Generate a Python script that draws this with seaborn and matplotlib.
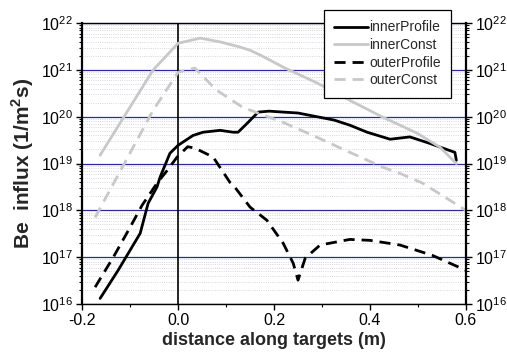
import numpy as np
import pandas as pd
import matplotlib
matplotlib.use('Agg')
import matplotlib.pyplot as plt
import matplotlib.ticker as mticker
import seaborn as sns

# values (x in m, y as log10 of flux)
inner_profile_x = [-0.1625, -0.125, -0.079, -0.0625, -0.044, -0.0375, -0.017, 0.0, 0.031, 0.052,
                   0.0875, 0.115, 0.125, 0.144, 0.167, 0.19, 0.219, 0.25, 0.29, 0.325, 0.358, 0.394,
                   0.442, 0.483, 0.525, 0.552, 0.577, 0.58]
inner_profile_log = [16.12, 16.72, 17.51, 18.15, 18.5, 18.71, 19.22, 19.39, 19.6, 19.67,
                     19.71, 19.67, 19.67, 19.86, 20.1, 20.12, 20.1, 20.08, 20.0, 19.93, 19.82, 19.67,
                     19.52, 19.57, 19.43, 19.33, 19.24, 19.07]

inner_const_x = [-0.1625, -0.052, 0.0, 0.046, 0.0875, 0.129, 0.15, 0.171, 0.219, 0.29,
                 0.358, 0.427, 0.498, 0.546, 0.58]
inner_const_log = [19.18, 21.0, 21.57, 21.68, 21.6, 21.49, 21.42, 21.32, 21.06, 20.72,
                   20.35, 19.99, 19.65, 19.35, 19.0]

outer_profile_x = [-0.173, -0.135, -0.1, -0.075, -0.044, -0.023, -0.002, 0.02, 0.035, 0.073,
                   0.108, 0.115, 0.15, 0.185, 0.219, 0.24, 0.25, 0.265, 0.296, 0.358, 0.4,
                   0.4625, 0.53, 0.567, 0.6]
outer_profile_log = [16.36, 17.0, 17.64, 18.11, 18.58, 18.85, 19.14, 19.36, 19.33, 19.14,
                     18.6, 18.54, 18.07, 17.79, 17.3, 16.87, 16.51, 16.98, 17.26, 17.38, 17.36,
                     17.26, 17.04, 16.87, 16.72]

outer_const_x = [-0.173, -0.12, -0.052, 0.0, 0.035, 0.08, 0.135, 0.219, 0.29,
                 0.358, 0.427, 0.4625, 0.51, 0.6]
outer_const_log = [17.85, 18.85, 20.14, 20.95, 21.04, 20.57, 20.2, 19.88, 19.56,
                   19.24, 18.92, 18.79, 18.58, 18.0]

x_ticks = [-0.2, 0.0, 0.2, 0.4, 0.6]
y_decades = [16, 17, 18, 19, 20, 21, 22]

series = [
    ('innerProfile', inner_profile_x, inner_profile_log, 'black', '-'),
    ('innerConst', inner_const_x, inner_const_log, '#c8c8c8', '-'),
    ('outerProfile', outer_profile_x, outer_profile_log, 'black', '--'),
    ('outerConst', outer_const_x, outer_const_log, '#c8c8c8', '--'),
]

sns.set_style('ticks')
plt.rcParams['font.family'] = ['Liberation Sans', 'DejaVu Sans']
plt.rcParams['mathtext.fontset'] = 'custom'
plt.rcParams['mathtext.rm'] = 'Liberation Sans'
plt.rcParams['mathtext.bf'] = 'Liberation Sans:bold'

fig = plt.figure(figsize=(5.07, 3.56), dpi=100)
ax = fig.add_axes([0.162, 0.146, 0.757, 0.789])

for name, xs, ys, color, ls in series:
    df = pd.DataFrame({'x': xs, 'y': 10 ** np.array(ys)})
    line = sns.lineplot(data=df, x='x', y='y', ax=ax, color=color,
                        linewidth=2.0, label=name, sort=False).lines[-1]
    if ls == '--':
        line.set_dashes((4, 2.5))

ax.set_yscale('log')
ax.set_ylim(1e16, 1e22)
ax.set_xlim(-0.2, 0.6)
ax.set_xticks(x_ticks)
ax.xaxis.set_minor_locator(mticker.FixedLocator([-0.1, 0.1, 0.3, 0.5]))
ax.xaxis.set_major_formatter(mticker.FormatStrFormatter('%.1f'))
ax.set_yticks([10.0 ** d for d in y_decades])
ax.set_yticklabels(['$10^{%d}$' % d for d in y_decades])
minor_y = [m * 10.0 ** d for d in y_decades[:-1] for m in range(2, 10)]
ax.yaxis.set_minor_locator(mticker.FixedLocator(minor_y))
ax.yaxis.set_minor_formatter(mticker.NullFormatter())

# grid: blue decades, dotted minor lines
ax.grid(which='major', axis='y', color='#2a2a9a', linewidth=0.9)
ax.grid(which='minor', axis='y', color='#c8c8d8', linestyle=':', linewidth=0.6)
ax.set_axisbelow(True)
ax.axvline(0, color='black', linewidth=1.2, zorder=1)

ax.tick_params(axis='both', which='both', direction='out', colors='black')
ax.tick_params(axis='y', which='both', right=True, labelright=True)
ax.tick_params(axis='both', labelsize=11.5)
ax.tick_params(which='major', length=4, width=1, pad=2.5)
ax.tick_params(which='minor', length=2, width=0.8)
for s in ax.spines.values():
    s.set_linewidth(1.0)
    s.set_color('black')
ax.spines['left'].set_linewidth(1.6)
ax.spines['right'].set_linewidth(1.6)

ax.set_xlabel('distance along targets (m)', fontsize=13, fontweight='bold', labelpad=3)
ax.set_ylabel('Be  influx (1/m$^\\mathbf{2}$s)', fontsize=15, fontweight='bold', labelpad=4)

leg = ax.legend(loc='upper right', bbox_to_anchor=(0.962, 1.046), fontsize=10,
                frameon=True, fancybox=False, framealpha=1, edgecolor='black',
                handlelength=2.45, handletextpad=0.1, labelspacing=0.26, borderpad=0.74,
                borderaxespad=0)
leg.get_frame().set_linewidth(0.9)
leg.set_zorder(5)

fig.savefig('out.png', dpi=100)
